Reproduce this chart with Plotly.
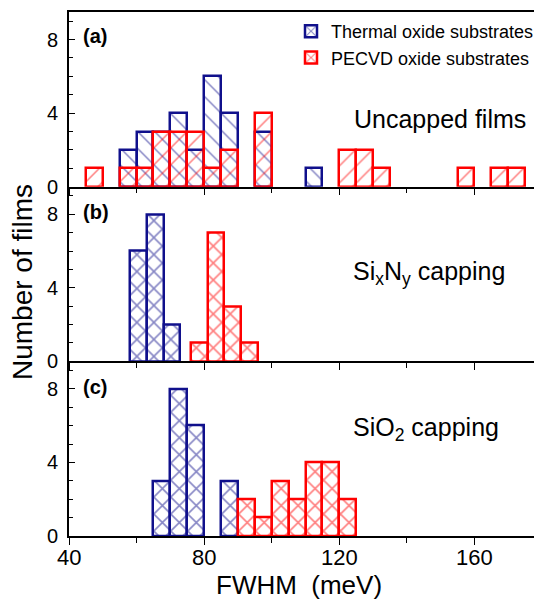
import plotly.graph_objects as go

# ---------------- data ----------------
BIN = 5  # meV bin width

# (a) Uncapped films
a_thermal_left = [55, 60, 65, 70, 75, 80, 85, 95, 110]
a_thermal_count = [2, 3, 3, 4, 2, 6, 4, 3, 1]
a_pecvd_left = [45, 55, 60, 65, 70, 75, 80, 85, 95, 120, 125, 130, 155, 165, 170]
a_pecvd_count = [1, 1, 1, 3, 3, 3, 1, 2, 4, 2, 2, 1, 1, 1, 1]

# (b) SixNy capping
b_thermal_left = [58, 63, 68]
b_thermal_count = [6, 8, 2]
b_pecvd_left = [76, 81, 86, 91]
b_pecvd_count = [1, 7, 3, 1]

# (c) SiO2 capping
c_thermal_left = [65, 70, 75, 85]
c_thermal_count = [3, 8, 6, 3]
c_pecvd_left = [90, 95, 100, 105, 110, 115, 120]
c_pecvd_count = [2, 1, 3, 2, 4, 4, 2]

x_ticks = [40, 80, 120, 160]
x_tick_labels = ["40", "80", "120", "160"]
y_ticks = [0, 4, 8]
series_names = ["Thermal oxide substrates", "PECVD oxide substrates"]
panel_labels = ["(a)", "(b)", "(c)"]
panel_texts = ["Uncapped films", "Si<sub>x</sub>N<sub>y</sub> capping", "SiO<sub>2</sub> capping"]

# ---------------- style ----------------
BLUE = "#10108c"
RED = "#ff0000"
FONT = "Liberation Sans, Arial, sans-serif"
OFF = 8  # page body margin
W, H = 542 - OFF, 599 - OFF
ML, MR, MT, MB = 69 - OFF, 0, 12 - OFF, 63
PW, PH = W - ML - MR, H - MT - MB


def px_x(p):  # screen pixel -> paper
    return (p - OFF - ML) / PW


def px_y(p):
    return (H - MB - (p - OFF)) / PH


fig = go.Figure()


def add_bars(left, count, color, shape, xa, ya, name, show):
    solidity = 0.25 if shape == "x" else 0.13
    fig.add_trace(go.Bar(
        x=left, y=count, width=BIN, offset=0,
        name=name, showlegend=show, legendgroup=name,
        xaxis=xa, yaxis=ya,
        marker=dict(
            color="rgba(0,0,0,0)",
            line=dict(color=color, width=2.5),
            pattern=dict(shape=shape, fgcolor=color, bgcolor="rgba(0,0,0,0)",
                         size=12, solidity=solidity, fillmode="overlay"),
        ),
    ))


# panel (a): top
add_bars(a_thermal_left, a_thermal_count, BLUE, "\\", "x", "y", series_names[0], False)
add_bars(a_pecvd_left, a_pecvd_count, RED, "/", "x", "y", series_names[1], False)
# panel (b)
add_bars(b_thermal_left, b_thermal_count, BLUE, "x", "x2", "y2", series_names[0], True)
add_bars(b_pecvd_left, b_pecvd_count, RED, "x", "x2", "y2", series_names[1], True)
# panel (c)
add_bars(c_thermal_left, c_thermal_count, BLUE, "x", "x3", "y3", series_names[0], False)
add_bars(c_pecvd_left, c_pecvd_count, RED, "x", "x3", "y3", series_names[1], False)

domains = [[2 / 3, 1.0], [1 / 3, 2 / 3], [0.0, 1 / 3]]

xcommon = dict(
    range=[40, 180], showline=True, linecolor="black", linewidth=1.6,
    ticks="outside", ticklen=7, tickwidth=1.4, tickcolor="black",
    tickvals=x_ticks, showgrid=False, zeroline=False, showticklabels=False,
    minor=dict(dtick=20, tick0=40, ticks="outside", ticklen=5, tickwidth=1.4, tickcolor="black", showgrid=False),
)
ycommon = dict(
    range=[0, 9.5], showline=True, linecolor="black", linewidth=1.6,
    ticks="inside", ticklen=6, tickwidth=1.4, tickcolor="black",
    tickvals=y_ticks, showgrid=False, zeroline=False,
    minor=dict(dtick=1, tick0=0, ticks="inside", ticklen=4, tickwidth=1.4, tickcolor="black", showgrid=False),
    tickfont=dict(family=FONT, size=20, color="black"),
    ticklabelstandoff=5,
)

fig.update_layout(
    width=W, height=H,
    margin=dict(l=ML, r=MR, t=MT, b=MB),
    paper_bgcolor="white", plot_bgcolor="rgba(0,0,0,0)",
    barmode="overlay", bargap=0,
    font=dict(family=FONT, color="black"),
    xaxis=dict(xcommon, anchor="y", mirror=True),
    xaxis2=dict(xcommon, anchor="y2", matches="x"),
    xaxis3=dict(xcommon, anchor="y3", matches="x"),
    yaxis=dict(ycommon, domain=domains[0], anchor="x"),
    yaxis2=dict(ycommon, domain=domains[1], anchor="x2"),
    yaxis3=dict(ycommon, domain=domains[2], anchor="x3"),
    legend=dict(
        x=px_x(291), y=px_y(13), xanchor="left", yanchor="top",
        bgcolor="rgba(0,0,0,0)", font=dict(family=FONT, size=18, color="black"),
        tracegroupgap=0, itemwidth=30,
    ),
)

annotations = []
# x tick labels of the bottom axis
for v, lab in zip(x_ticks, x_tick_labels):
    annotations.append(dict(text=lab, x=v, xref="x3", y=px_y(557), yref="paper",
                            xanchor="center", yanchor="middle", showarrow=False,
                            font=dict(family=FONT, size=22, color="black")))
label_y = [36, 212, 387]
for lab, py in zip(panel_labels, label_y):
    annotations.append(dict(text="<b>" + lab + "</b>", x=px_x(81), y=px_y(py), xref="paper", yref="paper",
                            xanchor="left", yanchor="middle", showarrow=False,
                            font=dict(family=FONT, size=20, color="black")))
text_pos = [(352, 119), (351, 273), (351, 429)]
for t, (px, py) in zip(panel_texts, text_pos):
    annotations.append(dict(text=t, x=px_x(px), y=px_y(py), xref="paper", yref="paper",
                            xanchor="left", yanchor="middle", showarrow=False,
                            font=dict(family=FONT, size=25, color="black")))
annotations.append(dict(text="Number of films", x=px_x(22), y=px_y(282), xref="paper", yref="paper",
                        xanchor="center", yanchor="middle", textangle=-90, showarrow=False,
                        font=dict(family=FONT, size=28, color="black")))
annotations.append(dict(text="FWHM  (meV)", x=px_x(299), y=px_y(585), xref="paper", yref="paper",
                        xanchor="center", yanchor="middle", showarrow=False,
                        font=dict(family=FONT, size=26, color="black")))
fig.update_layout(annotations=annotations)

fig.write_html("out.html")
